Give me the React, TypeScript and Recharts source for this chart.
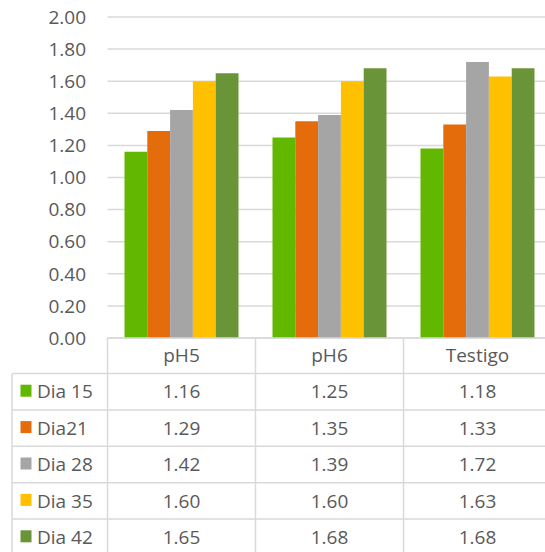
import React from 'react';
import { BarChart, Bar, XAxis, YAxis, CartesianGrid } from 'recharts';

const categories = ['pH5', 'pH6', 'Testigo'];
const seriesNames = ['Dia 15', 'Dia21', 'Dia 28', 'Dia 35', 'Dia 42'];
const dia15 = [1.16, 1.25, 1.18];
const dia21 = [1.29, 1.35, 1.33];
const dia28 = [1.42, 1.39, 1.72];
const dia35 = [1.6, 1.6, 1.63];
const dia42 = [1.65, 1.68, 1.68];
const yTicks = [0, 0.2, 0.4, 0.6, 0.8, 1.0, 1.2, 1.4, 1.6, 1.8, 2.0];

const seriesValues = [dia15, dia21, dia28, dia35, dia42];
const seriesKeys = ['d15', 'd21', 'd28', 'd35', 'd42'];
const colors = ['#62B800', '#E46C0A', '#A5A5A5', '#FFC000', '#6A9438'];

const data = categories.map((name, i) => {
  const row: any = { name };
  seriesKeys.forEach((k, s) => {
    row[k] = seriesValues[s][i];
  });
  return row;
});

// layout
const CHART_W = 560;
const CHART_H = 552;
const Y_AXIS_W = 107.5;
const MARGIN = { top: 17, right: 8.5, bottom: 0, left: 0 };
const X_AXIS_H = 214;
const PLOT_W = CHART_W - MARGIN.left - MARGIN.right - Y_AXIS_W;
const BAND = PLOT_W / categories.length;
const HEADER_H = 35.5;
const ROW_H = 36.4;
const LABEL_LEFT = 12;
const LINE = '#D9D9D9';
const LW = 1.5;
const TEXT = '#595959';
const FONT = '"Open Sans", "Liberation Sans", sans-serif';
const FS = 19;

const TableTick = (props: any) => {
  const { x, y, payload, index } = props;
  const i = typeof index === 'number' ? index : payload.index;
  const left = x - BAND / 2;
  const right = x + BAND / 2;
  const bottom = y + HEADER_H + ROW_H * seriesNames.length + 2;
  const els: any[] = [];
  els.push(<line key="vl" x1={left} x2={left} y1={y} y2={bottom} stroke={LINE} strokeWidth={LW} />);
  if (i === categories.length - 1) {
    els.push(<line key="vr" x1={right} x2={right} y1={y} y2={bottom} stroke={LINE} strokeWidth={LW} />);
  }
  els.push(
    <text key="hd" x={x} y={y + HEADER_H / 2} dy="0.35em" textAnchor="middle" fill={TEXT} fontSize={FS} fontFamily={FONT}>
      {payload.value}
    </text>
  );
  seriesNames.forEach((sn, s) => {
    const top = y + HEADER_H + ROW_H * s;
    els.push(<line key={'h' + s} x1={left} x2={right} y1={top} y2={top} stroke={LINE} strokeWidth={LW} />);
    els.push(
      <text key={'v' + s} x={x} y={top + ROW_H / 2} dy="0.35em" textAnchor="middle" fill={TEXT} fontSize={FS} fontFamily={FONT}>
        {seriesValues[s][i].toFixed(2)}
      </text>
    );
  });
  if (i === 0) {
    const labTop = y + HEADER_H;
    els.push(<line key="ll" x1={LABEL_LEFT} x2={LABEL_LEFT} y1={labTop} y2={bottom} stroke={LINE} strokeWidth={LW} />);
    seriesNames.forEach((sn, s) => {
      const top = labTop + ROW_H * s;
      const mid = top + ROW_H / 2;
      els.push(<line key={'lh' + s} x1={LABEL_LEFT} x2={left} y1={top} y2={top} stroke={LINE} strokeWidth={LW} />);
      els.push(<rect key={'lk' + s} x={20.5} y={mid - 7} width={11} height={12} fill={colors[s]} />);
      els.push(
        <text key={'lt' + s} x={37} y={mid} dy="0.35em" textAnchor="start" fill={TEXT} fontSize={FS} fontFamily={FONT}>
          {sn}
        </text>
      );
    });
  }
  return <g>{els}</g>;
};

export default function App() {
  return (
    <div
      style={{
        position: 'fixed',
        left: 0,
        top: 0,
        width: 545,
        height: 552,
        overflow: 'hidden',
        background: '#ffffff',
        fontFamily: FONT,
      }}
    >
      <BarChart width={CHART_W} height={CHART_H} data={data} margin={MARGIN} barGap={0}>
        <CartesianGrid horizontal vertical={false} stroke={LINE} strokeWidth={LW} />
        <YAxis
          width={Y_AXIS_W}
          domain={[0, 2]}
          ticks={yTicks}
          interval={0}
          tickFormatter={(v: number) => v.toFixed(2)}
          axisLine={false}
          tickLine={false}
          tickSize={0}
          tickMargin={21.5}
          tick={{ fill: TEXT, fontSize: FS, fontFamily: FONT }}
        />
        <XAxis
          dataKey="name"
          height={X_AXIS_H}
          interval={0}
          axisLine={{ stroke: LINE, strokeWidth: LW }}
          tickLine={false}
          tickSize={0}
          tickMargin={0}
          tick={<TableTick />}
        />
        {seriesKeys.map((k, s) => (
          <Bar key={k} dataKey={k} name={seriesNames[s]} fill={colors[s]} barSize={22.8} isAnimationActive={false} />
        ))}
      </BarChart>
    </div>
  );
}
